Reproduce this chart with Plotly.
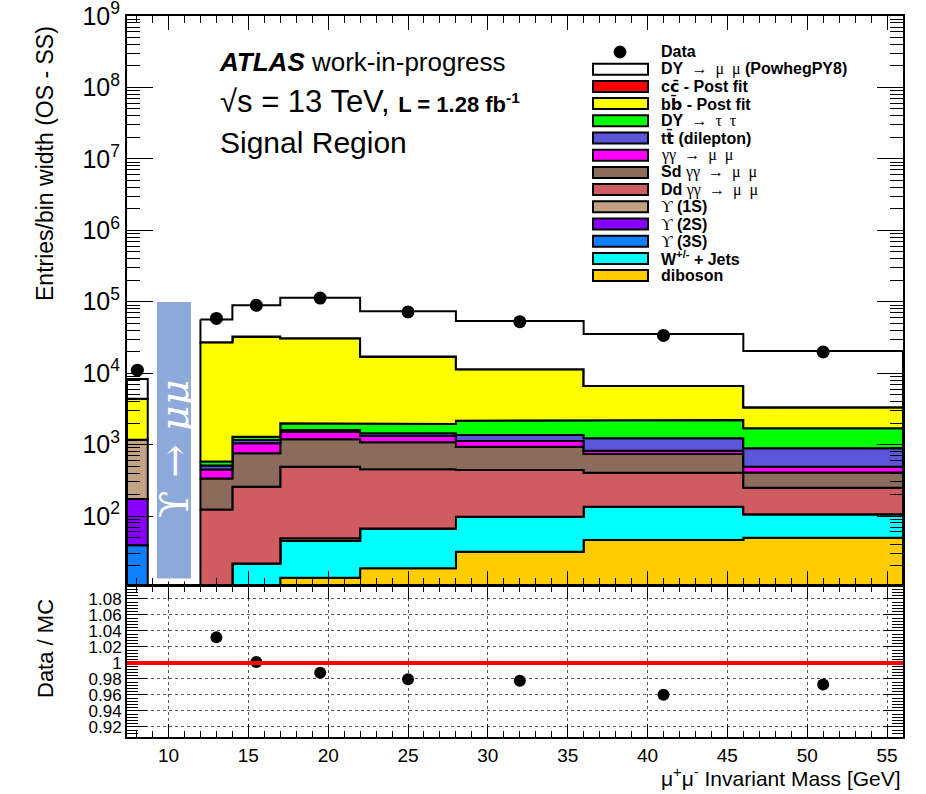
import plotly.graph_objects as go

# ---- binning (GeV) ----
edges_low = [7.4, 8.7]                                  # below the Upsilon window
edges_high = [12, 14, 17, 22, 28, 36, 46, 56]           # above the Upsilon window
bin_centers = [8.05, 13, 15.5, 19.5, 25, 32, 41, 51]

# ---- stacked backgrounds, entries / bin width (first value = low-mass bin) ----
diboson = [1, 0.5, 3, 13.7, 18.5, 31.6, 46, 49.7]
wjets = [1, 7, 18.7, 31.3, 48.5, 66.4, 89, 56]
ups3s = [37, 0, 0, 0, 0, 0, 0, 0]
ups2s = [134, 0, 0, 0, 0, 0, 0, 0]
ups1s = [986, 0, 0, 3.7, 0, 0, 0, 0]
dd_gg = [0, 116, 235, 442, 384, 342, 269, 143]
sd_gg = [0, 211, 498, 695, 625, 493, 334, 159]
gg_mumu = [0, 115, 288, 328, 242, 189, 84, 83]
ttbar = [0, 60, 120, 86, 120, 240, 403, 397]
dy_tautau = [5, 70, 127, 386, 507, 799, 988, 802]
bbbar = [3185, 26530, 31110, 28800, 15055, 9139, 4387, 1610]
ccbar = [50, 50, 100, 100, 50, 50, 30, 20]
dy_mumu = [3900, 29340, 56500, 83100, 56450, 42350, 28570, 17080]

# ---- data ----
data = [11000, 58300, 89100, 112600, 72000, 52500, 33800, 19850]
ratio_err = [0.0, 0.002, 0.002, 0.002, 0.002, 0.002, 0.003, 0.006]

# ---- log-axis tick labels ----
log_ticks = [1e2, 1e3, 1e4, 1e5, 1e6, 1e7, 1e8, 1e9]
log_ticktext = ["10<sup>2</sup>", "10<sup>3</sup>", "10<sup>4</sup>", "10<sup>5</sup>",
                "10<sup>6</sup>", "10<sup>7</sup>", "10<sup>8</sup>", "10<sup>9</sup>"]

SERIF = "Liberation Serif"
SANS = "Liberation Sans"


def sf(t):
    return f"<span style='font-family:{SERIF};font-weight:normal'>{t}</span>"


def bar(t):
    # letter with a combining macron, set in a font that places the mark correctly
    return f"<span style='font-family:DejaVu Sans'>{t}\u0304</span>"


# stacking order, bottom to top: (values, colour, legend label)
stack = [
    (diboson, "#ffcc00", "diboson"),
    (wjets, "#00ffff", "W<sup>+/-</sup> + Jets"),
    (ups3s, "#0f7fff", sf("ϒ") + " (3S)"),
    (ups2s, "#8800ff", sf("ϒ") + " (2S)"),
    (ups1s, "#c2a283", sf("ϒ") + " (1S)"),
    (dd_gg, "#cf5c60", "Dd " + sf("γγ  →  μ  μ")),
    (sd_gg, "#8c6a5c", "Sd " + sf("γγ  →  μ  μ")),
    (gg_mumu, "#ff00ff", sf("γγ  →  μ  μ")),
    (ttbar, "#5a55d9", "t" + bar("t") + " (dilepton)"),
    (dy_tautau, "#00ff00", "DY " + sf(" →  τ  τ")),
    (bbbar, "#ffff00", "b" + bar("b") + " - Post fit"),
    (ccbar, "#ff0000", "c" + bar("c") + " - Post fit"),
    (dy_mumu, "#ffffff", "DY " + sf(" →  μ  μ") + " (PowhegPY8)"),
]

FLOOR = 1.0  # below the visible log range


def step_band(lo, hi):
    """Closed step polygons (one per contiguous bin group) between lo and hi."""
    xs, ys = [], []
    for edges, idx in ((edges_low, [0]), (edges_high, list(range(1, 8)))):
        top_x, top_y, bot_x, bot_y = [], [], [], []
        for k, i in enumerate(idx):
            a, b = edges[k], edges[k + 1]
            top_x += [a, b]
            top_y += [max(hi[i], FLOOR)] * 2
            bot_x += [a, b]
            bot_y += [max(lo[i], FLOOR)] * 2
        xs += top_x + bot_x[::-1] + [top_x[0], None]
        ys += top_y + bot_y[::-1] + [top_y[0], None]
    return xs, ys


fig = go.Figure()
cum = [0.0] * 8
for vals, col, lab in stack:
    lo = cum[:]
    cum = [c + v for c, v in zip(cum, vals)]
    xs, ys = step_band(lo, cum)
    fig.add_trace(go.Scatter(
        x=xs, y=ys, mode="lines", fill="toself", fillcolor=col,
        line=dict(color="black", width=2), hoverinfo="skip",
        showlegend=False, xaxis="x", yaxis="y"))

total_mc = cum
ratio = [d / t for d, t in zip(data, total_mc)]

fig.add_trace(go.Scatter(
    x=bin_centers, y=data, mode="markers",
    marker=dict(color="black", size=13), showlegend=False,
    xaxis="x", yaxis="y"))

# same data on the overlay axis (transparent) so the minor-tick axis is laid out
fig.add_trace(go.Scatter(
    x=bin_centers, y=data, mode="markers", marker=dict(opacity=0),
    showlegend=False, hoverinfo="skip", xaxis="x", yaxis="y3"))

fig.add_trace(go.Scatter(
    x=bin_centers, y=ratio, mode="markers",
    marker=dict(color="black", size=12),
    error_y=dict(type="data", array=ratio_err, color="black", thickness=2, width=0),
    showlegend=False, xaxis="x2", yaxis="y2"))

# ---- geometry helpers (pixel -> paper) ----
W, H = 926, 794
ML, MR, MT, MB = 127, 23, 16, 57
PW, PH = W - ML - MR, H - MT - MB


def px(x):
    return (x - ML) / PW


def py(y):
    return (H - MB - y) / PH


upper_bottom = py(585)
ratio_top = py(586)
LOG_RANGE = [1.034, 9.0005]
log_minor = [m * 10 ** e for e in range(1, 9) for m in range(2, 10)]

axis_common = dict(showline=True, linecolor="black", linewidth=2, mirror="ticks",
                   ticks="inside", tickcolor="black", zeroline=False, automargin=False)

fig.update_layout(
    width=W, height=H,
    margin=dict(l=ML, r=MR, t=MT, b=MB, autoexpand=False),
    paper_bgcolor="white", plot_bgcolor="white",
    font=dict(family=SANS, color="black"),
    xaxis=dict(axis_common, range=[7.4, 56], dtick=5, tick0=0, ticklen=14, tickwidth=1,
               minor=dict(dtick=1, ticklen=7, ticks="inside", tickcolor="black"),
               showticklabels=False, showgrid=False, anchor="y"),
    yaxis=dict(axis_common, type="log", range=LOG_RANGE, tickmode="array",
               tickvals=log_ticks, ticktext=log_ticktext, ticklen=26, tickwidth=1,
               tickfont=dict(size=25, family=SANS), ticklabeloverflow="allow",
               minor=dict(tickmode="array", tickvals=log_minor, ticks="inside",
                          ticklen=13, tickcolor="black", tickwidth=1),
               showgrid=False, domain=[upper_bottom, 1], anchor="x"),
    yaxis3=dict(type="log", range=LOG_RANGE, overlaying="y", anchor="x", side="left",
                tickmode="array", tickvals=log_minor, ticks="inside", ticklen=13,
                tickwidth=1, tickcolor="black", showticklabels=False, showgrid=False,
                showline=True, linecolor="black", linewidth=2, mirror="ticks",
                zeroline=False, automargin=False),
    xaxis2=dict(axis_common, range=[7.4, 56], dtick=5, tick0=0, ticklen=13, tickwidth=1,
                minor=dict(dtick=1, ticklen=6, ticks="inside", tickcolor="black"),
                tickfont=dict(size=19, family=SANS),
                showgrid=True, gridcolor="#555555", griddash="dot", gridwidth=1,
                anchor="y2", matches="x"),
    yaxis2=dict(axis_common, range=[0.9075, 1.096], dtick=0.02, tick0=0, ticklen=20, tickwidth=1,
                minor=dict(dtick=0.004, ticklen=11, ticks="inside", tickcolor="black"),
                tickfont=dict(size=17, family=SANS),
                showgrid=True, gridcolor="#555555", griddash="dot", gridwidth=1,
                domain=[0, ratio_top], anchor="x2"),
)

shapes = []
annotations = []

# unity line in the ratio panel
shapes.append(dict(type="line", xref="x2 domain", yref="y2", x0=0, x1=1, y0=1, y1=1,
                   line=dict(color="#ff0000", width=4), layer="above"))

# masked Upsilon window
shapes.append(dict(type="rect", xref="x", yref="y domain", x0=9.18, x1=11.5,
                   y0=0.009, y1=0.5, fillcolor="#8eaadb",
                   line=dict(color="white", width=3), layer="above"))
annotations.append(dict(xref="x", yref="paper", x=10.34, y=py(449), textangle=-90,
                        xanchor="center", yanchor="middle",
                        text="ϒ → <i>μμ</i>", showarrow=False,
                        font=dict(family="DejaVu Serif", size=40, color="white")))

# ATLAS label block
annotations += [
    dict(xref="paper", yref="paper", x=px(217), y=py(62), xanchor="left", yanchor="middle",
         text="<b><i>ATLAS</i></b> work-in-progress", showarrow=False,
         font=dict(size=26, family=SANS)),
    dict(xref="paper", yref="paper", x=px(218), y=py(102), xanchor="left", yanchor="middle",
         text="√s = 13 TeV, <b><span style='font-size:22px'>L = 1.28 fb<sup>-1</sup></span></b>",
         showarrow=False, font=dict(size=31, family=SANS)),
    dict(xref="paper", yref="paper", x=px(218), y=py(142), xanchor="left", yanchor="middle",
         text="Signal Region", showarrow=False, font=dict(size=30, family=SANS)),
]

# axis titles
annotations += [
    dict(xref="paper", yref="paper", x=px(45), y=py(164), textangle=-90,
         xanchor="center", yanchor="middle",
         text="Entries/bin width (OS - SS)", showarrow=False, font=dict(size=23, family=SANS)),
    dict(xref="paper", yref="paper", x=px(45), y=py(649), textangle=-90,
         xanchor="center", yanchor="middle",
         text="Data / MC", showarrow=False, font=dict(size=22, family=SANS)),
    dict(xref="paper", yref="paper", x=1, y=py(777), xanchor="right", yanchor="middle",
         text="μ<sup>+</sup>μ<sup>-</sup> Invariant Mass [GeV]", showarrow=False,
         font=dict(size=21, family=SANS)),
]

# legend (top entry first)
LEG_Y0, LEG_DY = 52, 17.2
SW_X0, SW_X1, TXT_X = 593, 648, 659
legend_rows = [("data", None, "Data")] + [(None, c, l) for _, c, l in stack[::-1]]
for i, (kind, col, lab) in enumerate(legend_rows):
    yc = LEG_Y0 + i * LEG_DY
    if kind == "data":
        shapes.append(dict(type="circle", xref="paper", yref="paper",
                           x0=px(614), x1=px(626), y0=py(yc + 6), y1=py(yc - 6),
                           fillcolor="black", line=dict(color="black", width=1)))
    else:
        shapes.append(dict(type="rect", xref="paper", yref="paper",
                           x0=px(SW_X0), x1=px(SW_X1), y0=py(yc + 5.5), y1=py(yc - 5.5),
                           fillcolor=col, line=dict(color="black", width=2)))
    annotations.append(dict(xref="paper", yref="paper", x=px(TXT_X), y=py(yc),
                            xanchor="left", yanchor="middle", text=f"<b>{lab}</b>",
                            showarrow=False, font=dict(size=16, family=SANS)))

fig.update_layout(shapes=shapes, annotations=annotations)
fig.write_html("out.html")
